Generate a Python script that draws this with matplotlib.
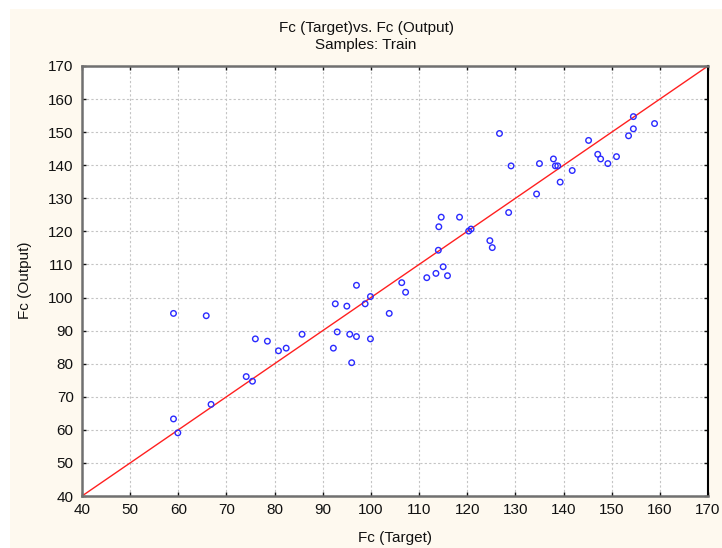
import matplotlib
matplotlib.use('Agg')
import matplotlib.pyplot as plt
from matplotlib.patches import Rectangle

# values
fc_target = [59.0, 65.8, 59.0, 59.9, 66.8, 74.1, 75.4, 76.0, 78.5, 80.8,
             82.4, 85.7, 92.2, 92.6, 93.0, 95.0, 95.6, 96.0, 97.0, 97.0,
             98.8, 99.9, 99.9, 103.8, 106.4, 107.2, 111.6, 113.5, 115.9, 115.0,
             114.0, 125.2, 124.7, 120.3, 120.8, 114.1, 114.6, 118.4, 128.6, 126.7,
             129.1, 135.0, 137.9, 138.3, 138.8, 139.3, 141.8, 134.4, 145.2, 147.1,
             147.7, 149.2, 151.0, 153.5, 154.5, 154.5, 158.9]
fc_output = [95.2, 94.5, 63.3, 59.1, 67.7, 76.1, 74.7, 87.5, 86.8, 83.9,
             84.7, 88.9, 84.7, 98.1, 89.6, 97.4, 88.9, 80.3, 103.7, 88.2,
             98.1, 100.3, 87.5, 95.2, 104.5, 101.6, 106.0, 107.3, 106.6, 109.3,
             114.3, 115.1, 117.2, 120.1, 120.7, 121.4, 124.3, 124.3, 125.7, 149.6,
             139.8, 140.5, 141.9, 139.8, 139.8, 134.9, 138.4, 131.3, 147.5, 143.3,
             141.9, 140.5, 142.6, 148.9, 154.7, 151.0, 152.6]
ideal = [40, 170]
ticks = list(range(40, 171, 10))

plt.rcParams['font.family'] = ['Liberation Sans', 'DejaVu Sans']
plt.rcParams['font.size'] = 11

W, H = 722, 548
fig = plt.figure(figsize=(W / 100, H / 100), dpi=100, facecolor='white')
fig.patches.append(Rectangle((10 / W, 0), 1 - 10 / W, 1 - 9 / H,
                             transform=fig.transFigure, facecolor='#fef9ef',
                             edgecolor='none', zorder=-10))

ax = fig.add_axes([82 / W, 52 / H, 626 / W, 430 / H])
ax.set_facecolor('white')

ax.plot(ideal, ideal, color='#ff2020', linewidth=1.0, zorder=2)
ax.scatter(fc_target, fc_output, s=16, facecolors='none', edgecolors='#2a2aff',
           linewidths=1.0, zorder=3)

ax.set_xlim(40, 170)
ax.set_ylim(40, 170)
ax.set_xticks(ticks)
ax.set_yticks(ticks)
ax.grid(True, color='#c4c4c4', linestyle=(0, (2, 2)), linewidth=0.8)
ax.set_axisbelow(True)

ax.tick_params(direction='in', length=3, width=1, colors='#111111',
               top=True, right=True, labelsize=11, pad=5)
ax.tick_params(axis='y', pad=6)

for side in ['left', 'bottom', 'top']:
    ax.spines[side].set_color('#707070')
    ax.spines[side].set_linewidth(1.8)
ax.spines['right'].set_color('black')
ax.spines['right'].set_linewidth(1.5)

fig.text(366 / W, 1 - 28 / H, 'Fc (Target)vs. Fc (Output)', ha='center',
         va='center', fontsize=11, color='#111111')
fig.text(366 / W, 1 - 45 / H, 'Samples: Train', ha='center',
         va='center', fontsize=11, color='#111111')
fig.text(395 / W, 1 - 538 / H, 'Fc (Target)', ha='center', va='center',
         fontsize=11, color='#111111')
fig.text(25 / W, 1 - 280 / H, 'Fc (Output)', ha='center', va='center',
         rotation=90, fontsize=11, color='#111111')

plt.savefig('out.png', dpi=100, facecolor=fig.get_facecolor())
plt.close(fig)
